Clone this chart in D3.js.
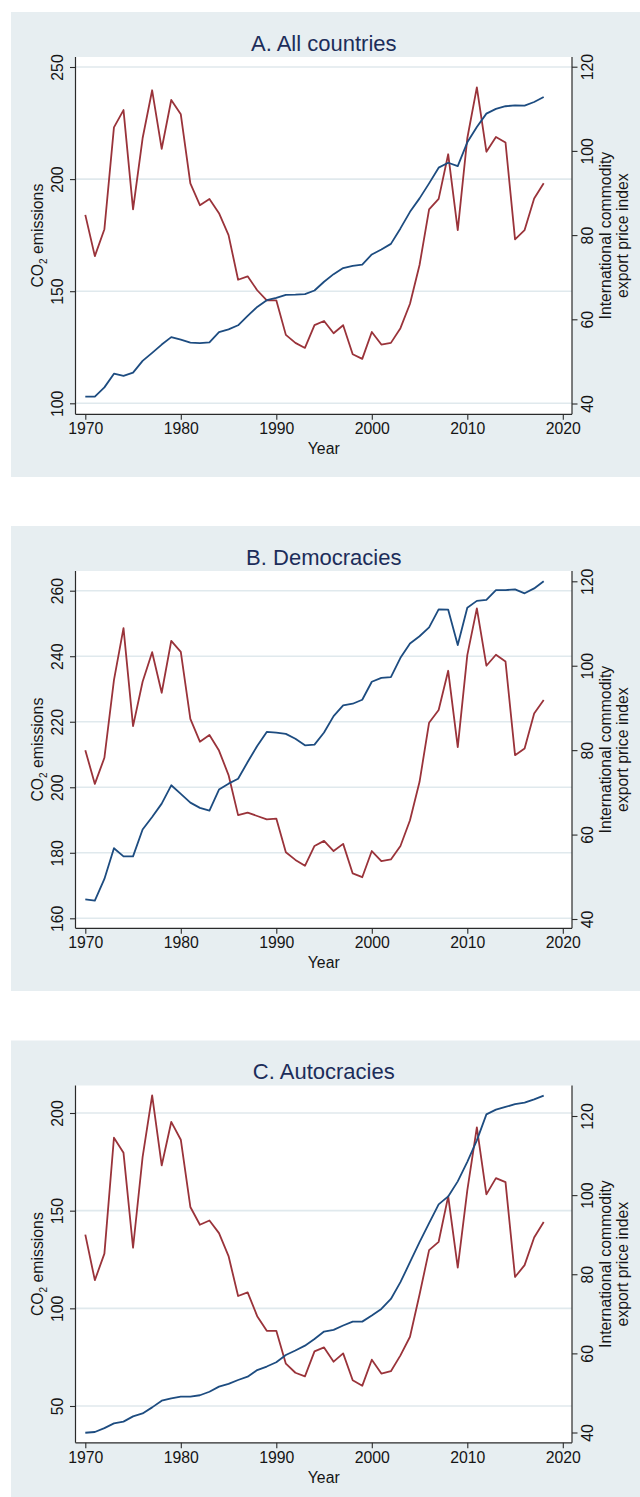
<!DOCTYPE html>
<html>
<head>
<meta charset="utf-8">
<script src="https://cdn.jsdelivr.net/npm/d3@7"></script>
<style>
  body { margin: 0; background: #ffffff; }
  svg { display: block; }
  text { font-family: "Liberation Sans", Arial, Helvetica, sans-serif; }
</style>
</head>
<body>
<svg id="chart" width="640" height="1497"></svg>
<script>
// Years on the horizontal axis
const years = d3.range(1970, 2019);

// A. All countries
const co2All = [103, 103, 107.1, 113.2, 112.2, 113.7, 118.9, 122.5, 126.2, 129.5,
  128.4, 127.1, 126.8, 127.2, 131.7, 133, 134.8, 139, 143, 146,
  147, 148.4, 148.5, 148.7, 150.3, 154.2, 157.6, 160.3, 161.3, 161.9,
  166.4, 168.6, 171.1, 178, 185.4, 191.4, 198.1, 205.1, 207.3, 205.8,
  216.4, 223.2, 229.2, 231.3, 232.5, 232.9, 232.8, 234.4, 236.6];
const priceAll = [84.8, 75, 81.4, 105.6, 109.7, 86.1, 103, 114.4, 100.5, 112.1,
  108.7, 92.3, 87.1, 88.6, 85.2, 80, 69.4, 70.2, 66.9, 64.5,
  64.5, 56.3, 54.4, 53.2, 58.6, 59.6, 56.7, 58.6, 51.7, 50.6,
  57, 54, 54.4, 57.9, 63.7, 72.9, 86.1, 88.6, 99.2, 81.2,
  103, 115.1, 99.8, 103.3, 102, 79, 81.2, 88.7, 92.3];

// B. Democracies
const co2Dem = [165.8, 165.4, 172, 181.4, 178.9, 178.9, 187.1, 190.9, 195, 200.6,
  198, 195.3, 193.7, 192.9, 199.3, 201.1, 202.6, 207.7, 212.6, 216.9,
  216.7, 216.3, 214.8, 212.8, 213, 216.7, 221.7, 225, 225.5, 226.7,
  232.2, 233.4, 233.6, 239.5, 243.9, 246.1, 248.8, 254.3, 254.2, 243.4,
  254.8, 256.9, 257.2, 260.2, 260.2, 260.4, 259.2, 260.7, 262.9];
const priceDem = [80, 72, 78.2, 96.6, 108.9, 85.7, 96.2, 103.2, 93.6, 105.9,
  103.3, 87.4, 82, 83.6, 79.9, 74.1, 64.6, 65.2, 64.4, 63.6,
  63.8, 55.8, 54, 52.6, 57.3, 58.5, 56.1, 57.8, 50.8, 49.9,
  56.1, 53.7, 54.1, 57.3, 63.4, 72.5, 86.5, 89.5, 98.8, 80.7,
  102.5, 113.6, 100, 102.6, 101, 78.8, 80.4, 88.7, 91.9];

// C. Autocracies
const co2Aut = [36.3, 36.7, 38.7, 41.1, 42, 44.7, 46.2, 49.3, 52.7, 53.9,
  54.8, 54.8, 55.5, 57.3, 59.9, 61.3, 63.3, 65, 68.4, 70.2,
  72.4, 76.1, 78.4, 80.9, 84.3, 88.1, 89, 91.2, 93.2, 93.2,
  96.3, 99.7, 104.8, 113.4, 123.6, 133.9, 143.6, 153.2, 157.3, 165,
  175, 186, 199.3, 201.7, 203.1, 204.5, 205.3, 207, 208.9];
const priceAut = [90, 78.5, 85.2, 114.5, 110.7, 86.7, 109.6, 125.2, 107.5, 118.5,
  114, 97, 92.5, 93.6, 90.4, 84.6, 74.5, 75.4, 69.4, 65.7,
  65.7, 57.4, 55.1, 54.2, 60.5, 61.5, 57.9, 60, 53.2, 51.8,
  58.4, 54.9, 55.5, 59.5, 64.2, 74.9, 86.1, 88.2, 99.7, 81.7,
  101.2, 117.1, 100.2, 104.3, 103.3, 79.3, 82.3, 89.3, 93.2];

// Tick labels
const xTicks = [1970, 1980, 1990, 2000, 2010, 2020];
const priceTicks = [40, 60, 80, 100, 120];
const co2TicksAll = [100, 150, 200, 250];
const co2TicksDem = [160, 180, 200, 220, 240, 260];
const co2TicksAut = [50, 100, 150, 200];

const titles = ["A. All countries", "B. Democracies", "C. Autocracies"];

const panels = [
  { title: titles[0], co2: co2All, price: priceAll, co2Ticks: co2TicksAll,
    top: 12, leftDom: [100, 250], leftPx: [391.3, 55], rightDom: [40, 120], rightPx: [391.5, 54.7] },
  { title: titles[1], co2: co2Dem, price: priceDem, co2Ticks: co2TicksDem,
    top: 526, leftDom: [160, 260], leftPx: [392.3, 64.7], rightDom: [40, 120], rightPx: [393, 55.3] },
  { title: titles[2], co2: co2Aut, price: priceAut, co2Ticks: co2TicksAut,
    top: 1040.5, leftDom: [50, 200], leftPx: [365.5, 72.5], rightDom: [40, 120], rightPx: [392, 75.5] }
];

// Layout
const bgLeft = 11, bgRight = 640, bgHeight = 465;
const plotLeft = 75.5, plotRight = 572, plotTop = 45, axisY = 402.3;
const bgColor = "#e7eef1", gridColor = "#e0e9ed";
const navy = "#1d4c80", maroon = "#9a333a";
const axisColor = "#2a2a2a", textColor = "#151515";
const fs = 15.8;

const x = d3.scaleLinear().domain([1970, 2020]).range([85.3, 562.8]);

const svg = d3.select("#chart");

panels.forEach(p => {
  const g = svg.append("g").attr("transform", `translate(0,${p.top})`);

  const yL = d3.scaleLinear().domain(p.leftDom).range(p.leftPx);
  const yR = d3.scaleLinear().domain(p.rightDom).range(p.rightPx);

  // panel background and white plot region
  g.append("rect").attr("x", bgLeft).attr("y", 0)
    .attr("width", bgRight - bgLeft).attr("height", bgHeight).attr("fill", bgColor);
  g.append("rect").attr("x", plotLeft).attr("y", plotTop)
    .attr("width", plotRight - plotLeft).attr("height", axisY - plotTop).attr("fill", "#ffffff");

  // horizontal grid on the emissions axis
  g.append("g").selectAll("line").data(p.co2Ticks).join("line")
    .attr("x1", plotLeft).attr("x2", plotRight)
    .attr("y1", d => yL(d)).attr("y2", d => yL(d))
    .attr("stroke", gridColor).attr("stroke-width", 1.6);

  // title
  g.append("text").attr("x", (plotLeft + plotRight) / 2).attr("y", 38.5)
    .attr("text-anchor", "middle").attr("font-size", 22).attr("fill", "#1c2d5a")
    .text(p.title);

  // bottom axis
  const xAxis = d3.axisBottom(x).tickValues(xTicks).tickFormat(d3.format("d"))
    .tickSize(5.5).tickPadding(3).tickSizeOuter(0);
  const gx = g.append("g").attr("transform", `translate(0,${axisY})`).call(xAxis);
  gx.select(".domain").remove();
  gx.selectAll(".tick line").attr("stroke", axisColor).attr("stroke-width", 1.1);
  gx.selectAll(".tick text").attr("font-size", fs).attr("fill", textColor)
    .attr("font-family", "'Liberation Sans', Arial, sans-serif");
  g.append("line").attr("x1", plotLeft).attr("x2", plotRight)
    .attr("y1", axisY).attr("y2", axisY).attr("stroke", axisColor).attr("stroke-width", 1.2);

  // left axis
  const leftAxis = d3.axisLeft(yL).tickValues(p.co2Ticks).tickSize(5.5).tickFormat(d3.format("d"));
  const gl = g.append("g").attr("transform", `translate(${plotLeft},0)`).call(leftAxis);
  gl.select(".domain").remove();
  gl.selectAll(".tick line").attr("stroke", axisColor).attr("stroke-width", 1.1);
  gl.selectAll(".tick text")
    .attr("x", null).attr("dy", null)
    .attr("transform", "translate(-13,0) rotate(-90)")
    .attr("text-anchor", "middle")
    .attr("font-size", fs).attr("fill", textColor)
    .attr("font-family", "'Liberation Sans', Arial, sans-serif");
  g.append("line").attr("x1", plotLeft).attr("x2", plotLeft)
    .attr("y1", plotTop).attr("y2", axisY).attr("stroke", axisColor).attr("stroke-width", 1.2);

  // right axis
  const rightAxis = d3.axisRight(yR).tickValues(priceTicks).tickSize(5.5).tickFormat(d3.format("d"));
  const gr = g.append("g").attr("transform", `translate(${plotRight},0)`).call(rightAxis);
  gr.select(".domain").remove();
  gr.selectAll(".tick line").attr("stroke", axisColor).attr("stroke-width", 1.1);
  gr.selectAll(".tick text")
    .attr("x", null).attr("dy", null)
    .attr("transform", "translate(21,0) rotate(-90)")
    .attr("text-anchor", "middle")
    .attr("font-size", fs).attr("fill", textColor)
    .attr("font-family", "'Liberation Sans', Arial, sans-serif");
  g.append("line").attr("x1", plotRight).attr("x2", plotRight)
    .attr("y1", plotTop).attr("y2", axisY).attr("stroke", axisColor).attr("stroke-width", 1.2);

  // axis titles
  const midY = (plotTop + axisY) / 2;
  g.append("text").attr("x", (plotLeft + plotRight) / 2).attr("y", axisY + 40)
    .attr("text-anchor", "middle").attr("font-size", fs).attr("fill", textColor).text("Year");

  const lt = g.append("text")
    .attr("transform", `translate(${plotLeft - 32.5},${midY}) rotate(-90)`)
    .attr("text-anchor", "middle").attr("font-size", fs).attr("fill", textColor);
  lt.append("tspan").text("CO");
  lt.append("tspan").attr("font-size", 10).attr("dy", 3.5).text("2");
  lt.append("tspan").attr("dy", -3.5).text(" emissions");

  const rt = g.append("text")
    .attr("transform", `translate(${plotRight + 39},${midY}) rotate(-90)`)
    .attr("text-anchor", "middle").attr("font-size", fs).attr("fill", textColor);
  rt.append("tspan").attr("x", 0).attr("dy", 0).text("International commodity");
  rt.append("tspan").attr("x", 0).attr("dy", 17).text("export price index");

  // series
  const lineL = d3.line().x((d, i) => x(years[i])).y(d => yL(d));
  const lineR = d3.line().x((d, i) => x(years[i])).y(d => yR(d));
  g.append("path").datum(p.price).attr("d", lineR)
    .attr("fill", "none").attr("stroke", maroon).attr("stroke-width", 1.8)
    .attr("stroke-linejoin", "round");
  g.append("path").datum(p.co2).attr("d", lineL)
    .attr("fill", "none").attr("stroke", navy).attr("stroke-width", 1.8)
    .attr("stroke-linejoin", "round");
});
</script>
</body>
</html>
